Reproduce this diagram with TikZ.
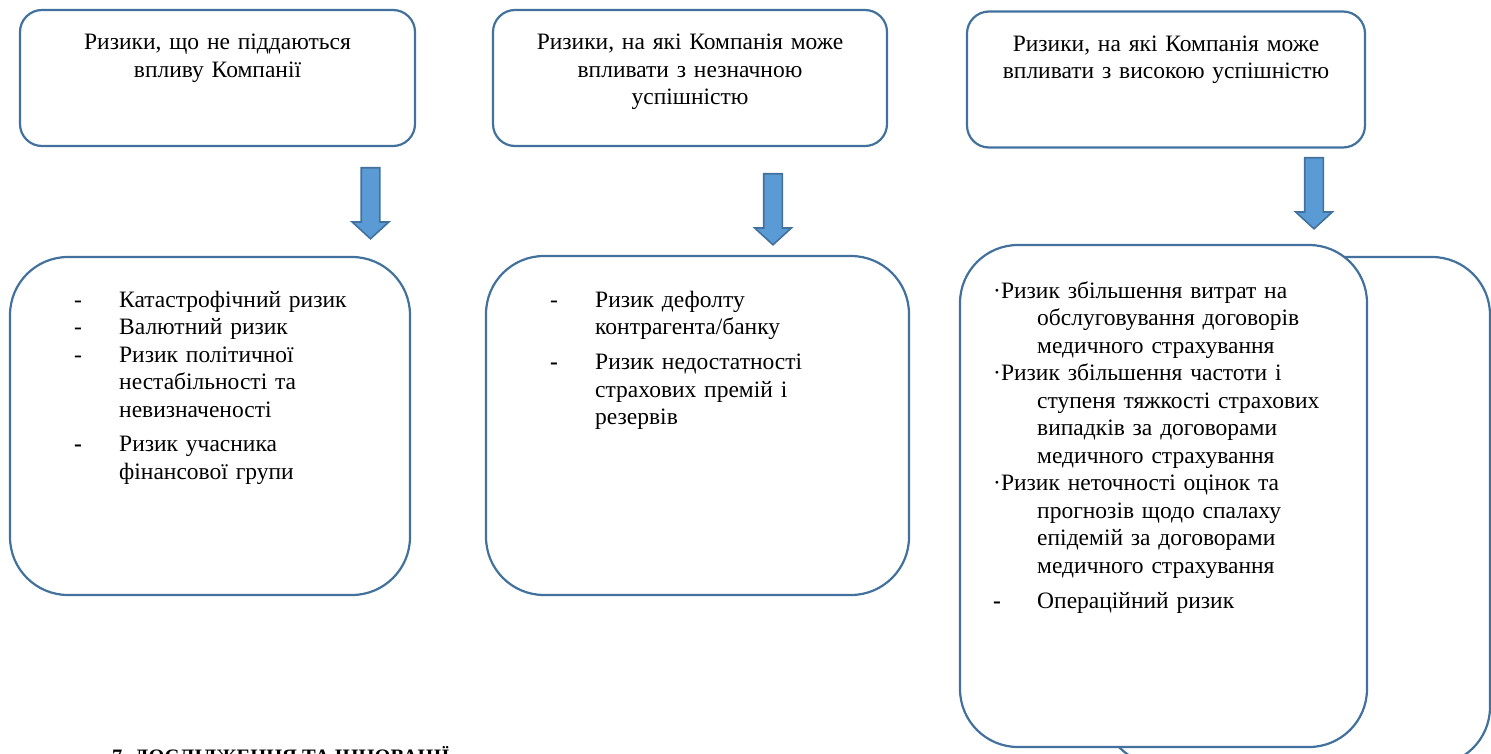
\documentclass[tikz,border=0pt]{standalone}
\usepackage{fontspec}
\setmainfont{Liberation Serif}
\usetikzlibrary{positioning,shapes.arrows}

\definecolor{boxline}{HTML}{41719C}
\definecolor{arrowfill}{HTML}{5B9BD5}
\setlength{\parskip}{0pt}

% list entries: dash item and dot item, both hanging on \leftskip
\newcommand{\riskitem}[2]{\noindent\hskip-\leftskip\makebox[\leftskip][l]{#1}#2\par}
\newcommand{\dotitem}[1]{\noindent\hskip-\leftskip·#1\par}

\begin{document}
\begin{tikzpicture}[
            x=1pt, y=-1pt,
            topbox/.style={
                draw=boxline,
                line width=2.2pt,
                rounded corners=22pt,
                fill=white,
                minimum height=136pt,
                inner sep=0pt
            },
            riskbox/.style={
                draw=boxline,
                line width=2.2pt,
                rounded corners=58pt,
                fill=white,
                inner sep=0pt
            },
            toptext/.style={
                text width=390pt,
                align=center,
                inner sep=0pt,
                anchor=base,
                font=\fontsize{23.5}{27.5}\selectfont
            },
            listtext/.style={
                text width=360pt,
                inner sep=0pt,
                anchor=base west,
                font=\fontsize{23.5}{27.5}\selectfont,
                execute at begin node={\parindent=0pt\leftskip=45pt}
            },
            downarrow/.style={
                single arrow,
                draw=boxline,
                fill=arrowfill,
                line width=1.6pt,
                rotate=-90,
                anchor=tail,
                inner sep=0pt,
                text width=0pt,
                text height=17pt,
                text depth=0pt,
                minimum height=71pt,
                minimum width=35pt,
                single arrow head extend=9pt,
                single arrow tip angle=95
            }
        ]

            \useasboundingbox (0,0) rectangle (1491,754);

            % Top row: groups of risks
            \foreach \n/\xc/\yc/\w/\txt in {
                1/217.5/78/395/{Ризики, що не піддаються\\впливу Компанії},
                2/690/78/394/{Ризики, на які Компанія може\\впливати з незначною\\успішністю},
                3/1166/79.5/398/{Ризики, на які Компанія може\\впливати з високою успішністю}} {
                \node[topbox, minimum width=\w pt] (top\n) at (\xc,\yc) {};
                \node[toptext] (toptxt\n) at (\xc,\yc-28) {\txt};
            }

            % Block arrows
            \foreach \n/\xa/\ya in {1/370.5/167, 2/773/173, 3/1314/157} {
                \node[downarrow] (arr\n) at (\xa,\ya) {};
            }

            % Bottom row: risk lists
            \node[riskbox, minimum width=387pt, minimum height=508pt] (risk3back) at (1296.5,511) {};
            \node[riskbox, minimum width=400pt, minimum height=338pt] (risk1) at (210,426) {};
            \node[riskbox, minimum width=423pt, minimum height=339pt] (risk2) at (697.5,425.5) {};
            \node[riskbox, minimum width=407pt, minimum height=502pt] (risk3) at (1163.5,496) {};

            \node[listtext] (list1) at (74,307) {%
                \riskitem{-}{Катастрофічний ризик}%
                \riskitem{-}{Валютний ризик}%
                \riskitem{-}{Ризик політичної\\нестабільності та\\невизначеності}%
                \vspace{7pt}%
                \riskitem{\textbf{-}}{Ризик учасника\\фінансової групи}};

            \node[listtext] (list2) at (550,307) {%
                \riskitem{-}{Ризик дефолту\\контрагента/банку}%
                \vspace{7.5pt}%
                \riskitem{\textbf{-}}{Ризик недостатності\\страхових премій і\\резервів}};

            \node[listtext, execute at begin node={\parindent=0pt\leftskip=44pt}] (list3) at (993,298) {%
                \dotitem{Ризик збільшення витрат на\\обслуговування договорів\\медичного страхування}%
                \dotitem{Ризик збільшення частоти і\\ступеня тяжкості страхових\\випадків за договорами\\медичного страхування}%
                \dotitem{Ризик неточності оцінок та\\прогнозів щодо спалаху\\епідемій за договорами\\медичного страхування}%
                \vspace{7.5pt}%
                \riskitem{\textbf{-}}{Операційний ризик}};

            % Next section heading, cut by the page edge
            \node[anchor=base west, inner sep=0pt, font=\fontsize{20.5}{24}\selectfont\bfseries] (sect7) at (112,763) {7. ДОСЛІДЖЕННЯ ТА ІННОВАЦІЇ};

        \end{tikzpicture}
\end{document}
